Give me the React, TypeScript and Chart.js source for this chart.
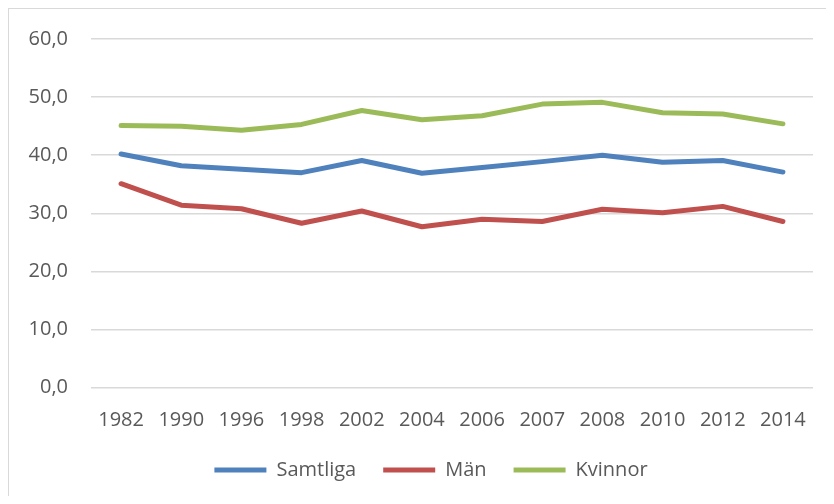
import React, { useEffect, useRef } from "react";
import { Chart, registerables } from "chart.js";

Chart.register(...registerables);

const years = ["1982", "1990", "1996", "1998", "2002", "2004", "2006", "2007", "2008", "2010", "2012", "2014"];
const samtliga = [40.2, 38.2, 37.6, 37.0, 39.1, 36.9, 37.9, 38.9, 40.0, 38.8, 39.1, 37.1];
const man = [35.1, 31.4, 30.8, 28.3, 30.4, 27.7, 29.0, 28.6, 30.7, 30.1, 31.2, 28.6];
const kvinnor = [45.1, 45.0, 44.3, 45.3, 47.7, 46.1, 46.8, 48.8, 49.1, 47.3, 47.1, 45.4];

const FONT = "'Open Sans', 'Noto Sans', sans-serif";
const TEXT = "#595959";

const legendNudge = {
  id: "legendNudge",
  afterLayout(chart: any) {
    const lg = chart.legend;
    if (!lg) return;
    lg.left += 40;
    lg.top -= 1.7;
    lg.bottom -= 1.7;
  },
};

export default function App() {
  const ref = useRef<HTMLCanvasElement>(null);
  useEffect(() => {
    if (!ref.current) return;
    const mk = (label: string, data: number[], color: string) => ({
      label,
      data,
      borderColor: color,
      backgroundColor: color,
      borderWidth: 5,
      pointRadius: 0,
      tension: 0,
      borderCapStyle: "round" as const,
      borderJoinStyle: "round" as const,
    });
    const chart = new Chart(ref.current, {
      type: "line",
      data: {
        labels: years,
        datasets: [
          mk("Samtliga", samtliga, "#4F81BD"),
          mk("Män", man, "#C0504D"),
          mk("Kvinnor", kvinnor, "#9BBB59"),
        ],
      },
      plugins: [legendNudge],
      options: {
        animation: false,
        responsive: true,
        maintainAspectRatio: false,
        layout: { padding: { left: 0, right: 21, top: 30, bottom: 4.3 } },
        plugins: {
          tooltip: { enabled: false },
          legend: {
            position: "bottom",
            labels: {
              color: TEXT,
              font: { family: FONT, size: 20 },
              boxWidth: 52,
              boxHeight: 5,
              padding: 27,
              generateLabels: (c: any) =>
                c.data.datasets.map((d: any, i: number) => ({
                  text: d.label,
                  fillStyle: d.borderColor,
                  strokeStyle: d.borderColor,
                  lineWidth: 0,
                  fontColor: TEXT,
                  datasetIndex: i,
                  hidden: false,
                })),
            },
          },
        },
        scales: {
          x: {
            offset: true,
            grid: { display: false, drawTicks: false },
            border: { display: false },
            ticks: { color: TEXT, font: { family: FONT, size: 20 }, padding: 21, maxRotation: 0, autoSkip: false },
            afterFit: (s: any) => { s.height = 47; },
          },
          y: {
            min: 0,
            max: 60,
            grid: { color: "#D9D9D9", lineWidth: 1.5, drawTicks: false },
            border: { display: false },
            ticks: {
              stepSize: 10,
              color: TEXT,
              padding: 23,
              font: { family: FONT, size: 20 },
              callback: (v: any) => Number(v).toFixed(1).replace(".", ","),
            },
            afterFit: (s: any) => {
              s.width = 82;
              s.paddingTop = 10;
              s.paddingBottom = 10;
            },
          },
        },
      },
    });
    return () => chart.destroy();
  }, []);
  return (
    <div style={{ width: 825, height: 487, borderLeft: "1px solid #D9D9D9", borderTop: "1px solid #D9D9D9", position: "relative" }}>
      <canvas ref={ref} />
    </div>
  );
}
